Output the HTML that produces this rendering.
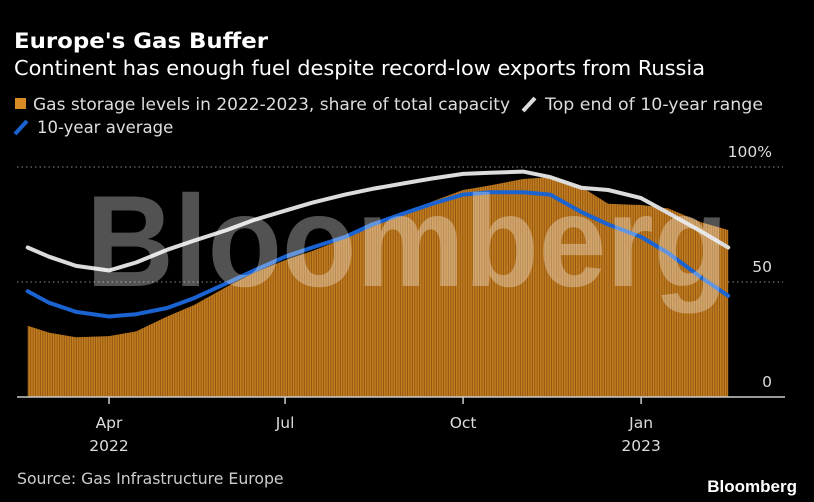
<!DOCTYPE html>
<html><head><meta charset="utf-8"><style>
body{margin:0;background:#000;width:814px;height:502px;overflow:hidden;font-family:"DejaVu Sans","Liberation Sans",sans-serif;color:#fff}
svg{position:absolute;left:0;top:0}
</style></head><body>
<svg width="814" height="502" font-family="DejaVu Sans, Liberation Sans, sans-serif">
<defs>
<pattern id="stripes" width="2.4" height="10" patternUnits="userSpaceOnUse">
<rect width="2.4" height="10" fill="#8e5510"/><rect width="1.5" height="10" fill="#c47e22"/>
</pattern>
</defs>
<text x="14" y="48" font-size="21" font-weight="bold" fill="#fff" textLength="254" lengthAdjust="spacingAndGlyphs">Europe's Gas Buffer</text>
<text x="14" y="75" font-size="20.5" fill="#fff" textLength="691" lengthAdjust="spacingAndGlyphs">Continent has enough fuel despite record-low exports from Russia</text>
<g>
<rect x="15" y="98" width="11" height="11" fill="#d88a25"/>
<text x="33" y="110" font-size="16.5" fill="#ddd" textLength="477" lengthAdjust="spacingAndGlyphs">Gas storage levels in 2022-2023, share of total capacity</text>
<line x1="523" y1="111" x2="535" y2="98" stroke="#ddd" stroke-width="4"/>
<text x="545" y="110" font-size="16.5" fill="#ddd" textLength="218" lengthAdjust="spacingAndGlyphs">Top end of 10-year range</text>
<line x1="15" y1="134" x2="27" y2="121" stroke="#1a63d0" stroke-width="4"/>
<text x="37" y="133" font-size="16.5" fill="#ddd">10-year average</text>
</g>
<g id="plot"></g>
<text x="17" y="484" font-size="15.7" fill="#ccc">Source: Gas Infrastructure Europe</text>
<text x="797" y="492" font-size="17" font-weight="bold" fill="#fff" text-anchor="end" font-family="Liberation Sans, sans-serif">Bloomberg</text>
</svg>
<script>
const dates=["2022-02-18","2022-03-01","2022-03-15","2022-04-01","2022-04-15","2022-05-01","2022-05-15","2022-06-01","2022-06-15","2022-07-01","2022-07-15","2022-08-01","2022-08-15","2022-09-01","2022-09-15","2022-10-01","2022-10-15","2022-11-01","2022-11-15","2022-12-01","2022-12-15","2023-01-01","2023-01-15","2023-02-01","2023-02-15"];
const storage=[31,28,26,26.5,28.5,35,40,48,54,59.5,63.5,69,74,80,85,90,92,94.8,95.6,91.4,84,83.5,82,76,72.6];
const topRange=[65,61,57,55,58.5,64,68,72.6,77,81,84.5,88,90.5,93,95,97,97.5,98,95.6,91,90,86.5,80,72,65];
const average=[46,41,37,35,36,38.7,43,49.5,55,61,65,69.6,75,80,84,88,89,89,88,80.5,75,69.6,62.6,52,44];
const yTicks=[0,50,100];
const yLabels=["0","50","100%"];
const xTickDates=["2022-04-01","2022-07-01","2022-10-01","2023-01-01"];
const xTickLabels=["Apr","Jul","Oct","Jan"];
const xYearLabels=["2022","","","2023"];

const DAY=86400000, t0=Date.parse("2022-04-01");
const x=d=>109+(Date.parse(d)-t0)/DAY*1.935;
const y=v=>397-v*2.3;
const NS="http://www.w3.org/2000/svg";
const plot=document.getElementById('plot');
function mk(tag,attrs,parent){const e=document.createElementNS(NS,tag);for(const k in attrs)e.setAttribute(k,attrs[k]);(parent||plot).appendChild(e);return e;}

yTicks.forEach((v,i)=>{
  if(v>0){const g=mk('line',{x1:17,x2:783,y1:y(v),y2:y(v),stroke:'#888','stroke-width':1,'stroke-dasharray':'1.5,3'});
  
  }
  const t=mk('text',{x:772,y:y(v)-10,'font-size':15.5,fill:'#ddd','text-anchor':'end'});
  t.textContent=yLabels[i];
  
  
});

let dA='M'+x(dates[0]).toFixed(1)+','+y(0);
for(let i=0;i<dates.length;i++)dA+=' L'+x(dates[i]).toFixed(1)+','+y(storage[i]).toFixed(1);
dA+=' L'+x(dates[dates.length-1]).toFixed(1)+','+y(0)+' Z';
const area=mk('path',{d:dA,fill:'url(#stripes)'});



function line(vals,color,name){
  let d='';vals.forEach((v,i)=>{d+=(i?' L':'M')+x(dates[i]).toFixed(1)+','+y(v).toFixed(1);});
  const p=mk('path',{d:d,fill:'none',stroke:color,'stroke-width':4,'stroke-linejoin':'round','stroke-linecap':'round'});
  
  
}
line(average,'#1a63d0','average-line');
line(topRange,'#dcdcdc','top-range-line');

const wm=mk('text',{x:86,y:286,'font-size':130,'font-weight':'bold',fill:'rgba(255,255,255,0.32)','font-family':'Liberation Sans, sans-serif',textLength:642,lengthAdjust:'spacingAndGlyphs'});
wm.textContent='Bloomberg';



const ax=mk('line',{x1:17,x2:785,y1:397,y2:397,stroke:'#ccc','stroke-width':1.5});


xTickDates.forEach((d,i)=>{
  const tk=mk('line',{x1:x(d),x2:x(d),y1:397,y2:404,stroke:'#ccc','stroke-width':1.5});
  
  
  const t=mk('text',{x:x(d),y:428,'font-size':15.5,fill:'#ddd','text-anchor':'middle'});
  t.textContent=xTickLabels[i];
  
  
  if(xYearLabels[i]){const yt=mk('text',{x:x(d),y:451,'font-size':15.5,fill:'#ddd','text-anchor':'middle'});
  yt.textContent=xYearLabels[i];
  
  }
});
</script>
</body></html>
